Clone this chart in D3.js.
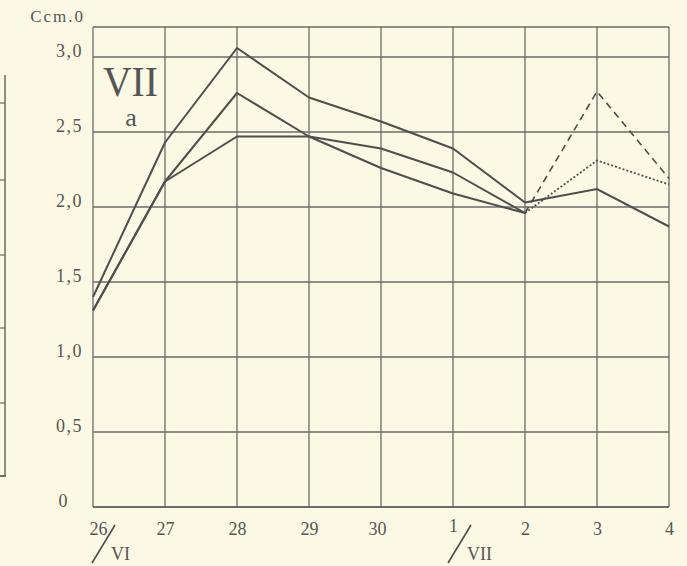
<!DOCTYPE html>
<html>
<head>
<meta charset="utf-8">
<script src="https://cdn.jsdelivr.net/npm/d3@7"></script>
<style>
  html, body { margin: 0; padding: 0; background: #fbf8e4; }
  svg { display: block; }
</style>
</head>
<body>
<svg id="chart" width="687" height="566"></svg>
<script>
// days along the x axis (26 June .. 4 July)
const days = ["26", "27", "28", "29", "30", "1", "2", "3", "4"];
const months = ["VI", "VII"];
const monthStartDays = ["26", "1"];
// y ticks
const yTicks = [0, 0.5, 1.0, 1.5, 2.0, 2.5, 3.0];
const yTickLabels = ["0", "0,5", "1,0", "1,5", "2,0", "2,5", "3,0"];
// three curves; after day "2" the lower two are drawn dashed / dotted
const seriesTop = [1.40, 2.43, 3.06, 2.73, 2.57, 2.39, 2.03, 2.12, 1.87];
const seriesMid = [1.31, 2.17, 2.76, 2.47, 2.26, 2.09, 1.96, 2.77, 2.19];
const seriesLow = [1.31, 2.17, 2.47, 2.47, 2.39, 2.23, 1.96, 2.31, 2.15];
const splitDay = "2";

const svg = d3.select("#chart");
const ink = "#4e4e4e";
const gridInk = "#6b6b6b";
const serif = "'Liberation Serif', 'Times New Roman', 'DejaVu Serif', serif";

let margin = { top: 27, right: 18, bottom: 59, left: 93 };
let width = 687 - margin.left - margin.right;
let height = 566 - margin.top - margin.bottom;

let x = d3.scalePoint().domain(days).range([0, width]);
let y = d3.scaleLinear().domain([0, 3.2]).range([height, 0]);

let g = svg.append("g")
  .attr("transform", "translate(" + margin.left + "," + margin.top + ")");

// neighbouring chart edge, cut off at the left
svg.append("line")
  .attr("x1", 5).attr("x2", 5).attr("y1", 75).attr("y2", 476)
  .attr("stroke", gridInk).attr("stroke-width", 1.5);
svg.append("line")
  .attr("x1", 0).attr("x2", 6).attr("y1", 476).attr("y2", 476)
  .attr("stroke", gridInk).attr("stroke-width", 2);
[103, 180, 255, 328, 403].forEach(function (yy) {
  svg.append("line")
    .attr("x1", 0).attr("x2", 5).attr("y1", yy).attr("y2", yy)
    .attr("stroke", gridInk).attr("stroke-width", 1.2);
});

// grid
g.selectAll(".vgrid")
  .data(days)
  .enter().append("line")
    .attr("class", "vgrid")
    .attr("x1", d => x(d)).attr("x2", d => x(d))
    .attr("y1", 0).attr("y2", height)
    .attr("stroke", gridInk).attr("stroke-width", 1.3);

g.selectAll(".hgrid")
  .data(yTicks.concat([3.2]))
  .enter().append("line")
    .attr("class", "hgrid")
    .attr("x1", 0).attr("x2", width)
    .attr("y1", d => y(d)).attr("y2", d => y(d))
    .attr("stroke", gridInk)
    .attr("stroke-width", d => d === 0 ? 2.2 : 1.3);

// y axis labels
let yAxis = g.append("g")
  .call(d3.axisLeft(y).tickValues(yTicks).tickSize(0).tickPadding(10)
    .tickFormat((d, i) => yTickLabels[i]));
yAxis.select(".domain").remove();
yAxis.selectAll("text")
  .style("font-family", serif)
  .style("font-size", "18px")
  .style("letter-spacing", "1.5px")
  .style("fill", "#555")
  .attr("dy", "-0.05em")
  .attr("dx", d => d === 0 ? -14 : 0);

g.append("text")
  .attr("x", -8).attr("y", -5)
  .attr("text-anchor", "end")
  .style("font-family", serif)
  .style("font-size", "17px")
  .style("letter-spacing", "2px")
  .style("fill", "#555")
  .text("Ccm.0");

// x axis labels
let xAxis = g.append("g")
  .attr("transform", "translate(0," + height + ")")
  .call(d3.axisBottom(x).tickSize(0).tickPadding(15));
xAxis.select(".domain").remove();
xAxis.selectAll("text")
  .style("font-family", serif)
  .style("font-size", "18px")
  .style("fill", "#555")
  .attr("dx", d => d === "26" ? 5 : (d === "30" ? -4 : 0))
  .attr("dy", d => d === "1" ? "0.55em" : "0.7em");

// month marks with slash
monthStartDays.forEach(function (d, i) {
  let cx = x(d) + (i === 0 ? 10 : 6);
  g.append("line")
    .attr("x1", cx - 11).attr("y1", height + 56)
    .attr("x2", cx + 12).attr("y2", height + 18)
    .attr("stroke", ink).attr("stroke-width", 1.6);
  g.append("text")
    .attr("x", cx + 8).attr("y", height + 53)
    .style("font-family", serif)
    .style("font-size", "18px")
    .style("fill", "#555")
    .text(months[i]);
});

// big panel label "VII" with "a" below
g.append("text")
  .attr("x", 10).attr("y", 69)
  .attr("textLength", 55)
  .attr("lengthAdjust", "spacingAndGlyphs")
  .style("font-family", serif)
  .style("font-size", "42px")
  .style("fill", "#555")
  .text("VII");
g.append("text")
  .attr("x", 38).attr("y", 99)
  .attr("text-anchor", "middle")
  .style("font-family", serif)
  .style("font-size", "26px")
  .style("fill", "#555")
  .text("a");

// curves
let line = d3.line()
  .x(d => x(d.day))
  .y(d => y(d.value));

let splitIdx = days.indexOf(splitDay);
function pts(values) {
  return values.map((v, i) => ({ day: days[i], value: v }));
}

[seriesTop, seriesMid, seriesLow].forEach(function (s) {
  g.append("path")
    .attr("fill", "none")
    .attr("stroke", ink)
    .attr("stroke-width", 2)
    .attr("stroke-linejoin", "round")
    .attr("d", line(pts(s).slice(0, splitIdx + 1)));
});

// continuation after the split day
g.append("path")
  .attr("fill", "none").attr("stroke", ink).attr("stroke-width", 2)
  .attr("d", line(pts(seriesTop).slice(splitIdx)));
g.append("path")
  .attr("fill", "none").attr("stroke", ink).attr("stroke-width", 1.6)
  .attr("stroke-dasharray", "7,5")
  .attr("d", line(pts(seriesMid).slice(splitIdx)));
g.append("path")
  .attr("fill", "none").attr("stroke", ink).attr("stroke-width", 1.8)
  .attr("stroke-dasharray", "2,2")
  .attr("d", line(pts(seriesLow).slice(splitIdx)));
</script>
</body>
</html>
